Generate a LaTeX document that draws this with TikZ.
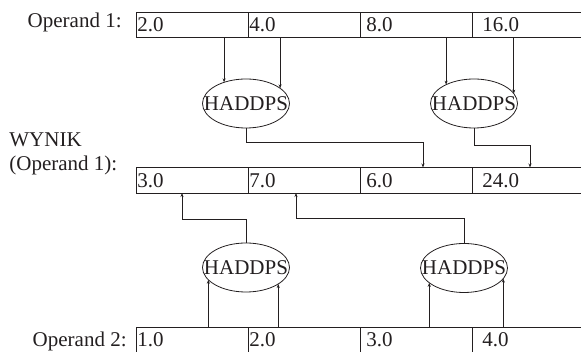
\documentclass[tikz,border=0pt]{standalone}
\usepackage{fontspec}
\setmainfont{Liberation Serif}
\usetikzlibrary{arrows.meta,shapes.geometric}

\definecolor{ink}{HTML}{231F20}

\tikzset{
  cell/.style={draw, rectangle, minimum width=112pt, minimum height=25.5pt, inner sep=0pt, outer sep=0pt},
  val/.style={anchor=west, inner sep=0pt},
  haddps/.style={draw, ellipse, minimum width=87pt, minimum height=49pt, inner sep=0pt, outer sep=0pt},
  arr/.style={-{Stealth[length=4pt,width=3pt]}},
}

\begin{document}
\begin{tikzpicture}[x=1pt, y=-1pt, line width=0.8pt, color=ink, font=\fontsize{21}{24}\selectfont]
		\useasboundingbox (0,0) rectangle (581,352);
		% the three registers, four doubles each
		\foreach \v/\d [count=\i] in {2.0/1, 4.0/1, 8.0/6, 16.0/10} {
			\node[cell] (a\i) at (80+112*\i, 24.75) {};
			\node[val] (va\i) at ([xshift=\d pt]a\i.west) {\v};
		}
		\foreach \v/\d [count=\i] in {3.0/1, 7.0/1, 6.0/6, 24.0/10} {
			\node[cell] (b\i) at (80+112*\i, 180.25) {};
			\node[val] (vb\i) at ([xshift=\d pt]b\i.west) {\v};
		}
		\foreach \v/\d [count=\i] in {1.0/1, 2.0/1, 3.0/6, 4.0/10} {
			\node[cell] (c\i) at (80+112*\i, 340) {};
			\node[val] (vc\i) at ([xshift=\d pt]c\i.west) {\v};
		}
		\node[anchor=base east, inner sep=0pt] (op1) at (122,28) {Operand 1:};
		\node[anchor=base west, inner sep=0pt, align=left] (res) at (9,171) {WYNIK\\(Operand 1):};
		\node[anchor=base east, inner sep=0pt] (op2) at (127,347) {Operand 2:};

		% horizontal adds
		\node[haddps] (e1) at (246,103.5) {\makebox[0pt]{HADDPS}};
		\node[haddps] (e2) at (474,103.5) {\makebox[0pt]{HADDPS}};
		\node[haddps] (e3) at (246,267.5) {\makebox[0pt]{HADDPS}};
		\node[haddps] (e4) at (464,268) {\makebox[0pt]{HADDPS}};

		\draw[arr] (e1.136 |- a1.south) -- (e1.136);
		\draw[arr] (e1.24 |- a2.south) -- (e1.24);
		\draw[arr] (e2.146 |- a3.south) -- (e2.146);
		\draw[arr] (e2.14 |- a4.south) -- (e2.14);
		\draw[arr] (e3.198 |- c1.north) -- (e3.198);
		\draw[arr] (e3.333 |- c2.north) -- (e3.333);
		\draw[arr] (e4.203 |- c3.north) -- (e4.203);
		\draw[arr] (e4.345 |- c4.north) -- (e4.345);

		% results into the destination
		\coordinate (k1) at (423,142);
		\coordinate (k2) at (530,145);
		\coordinate (k3) at (182,219);
		\coordinate (k4) at (296,218);
		\draw[arr] (e1.south) |- (k1) -- (k1 |- b3.north);
		\draw[arr] (e2.south) |- (k2) -- (k2 |- b4.north);
		\draw[arr] (e3.north) |- (k3) -- (k3 |- b1.south);
		\draw[arr] (e4.north) |- (k4) -- (k4 |- b2.south);
\end{tikzpicture}
\end{document}
